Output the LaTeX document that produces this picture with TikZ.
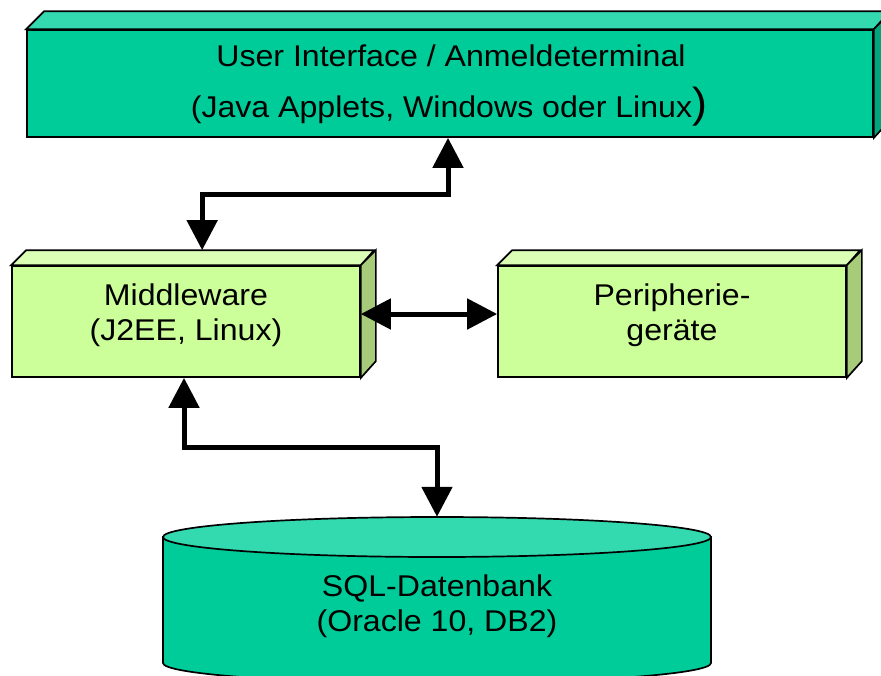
\documentclass[tikz,border=0pt]{standalone}
\usepackage{fontspec}
\setmainfont[FakeStretch=1.07]{Liberation Sans}
\usetikzlibrary{arrows.meta}
\definecolor{tealfront}{HTML}{00CC99}
\definecolor{tealtop}{HTML}{33D9AF}
\definecolor{tealside}{HTML}{00A57E}
\definecolor{greenfront}{HTML}{CCFF99}
\definecolor{greentop}{HTML}{DAFFB5}
\definecolor{greenside}{HTML}{A6CC7A}
\tikzset{
  face/.style={draw=black, line width=1.7pt, line join=miter},
  frontbox/.style={face, rectangle, inner sep=0pt},
  lbl/.style={anchor=base, inner sep=0pt, font=\fontsize{30}{36}\selectfont},
  conn/.style={line width=5pt, line join=miter, draw=black,
    {Triangle[length=30pt,width=30pt]}-{Triangle[length=30pt,width=30pt]}}
}
\begin{document}
\begin{tikzpicture}[x=1pt,y=-1pt]
\useasboundingbox (0,0) rectangle (881,675);
% ---------- User interface box ----------
\node[frontbox, fill=tealfront, minimum width=846pt, minimum height=107pt] (ui) at (450,83.5) {};
\path[face, fill=tealtop] (ui.north west) -- ++(18,-18) -- ++(846,0) -- (ui.north east) -- cycle;
\path[face, fill=tealside] (ui.north east) -- ++(18,-18) -- ++(0,107) -- (ui.south east) -- cycle;
\node[lbl] (uit1) at (451,66) {User Interface / Anmeldeterminal};
\node[lbl] (uit2) at (449,117) {(Java Applets, Windows oder Linux{\fontsize{42}{42}\selectfont )}};
% ---------- Middleware box ----------
\node[frontbox, fill=greenfront, minimum width=348pt, minimum height=111pt] (mw) at (186,321.5) {};
\path[face, fill=greentop] (mw.north west) -- ++(15,-15) -- ++(348,0) -- (mw.north east) -- cycle;
\path[face, fill=greenside] (mw.north east) -- ++(15,-15) -- ++(0,111) -- (mw.south east) -- cycle;
\node[lbl] (mwt1) at (186,305) {Middleware};
\node[lbl] (mwt2) at (186,340) {(J2EE, Linux)};
% ---------- Peripherie box ----------
\node[frontbox, fill=greenfront, minimum width=348pt, minimum height=111pt] (pe) at (672,321.5) {};
\path[face, fill=greentop] (pe.north west) -- ++(15,-15) -- ++(348,0) -- (pe.north east) -- cycle;
\path[face, fill=greenside] (pe.north east) -- ++(15,-15) -- ++(0,111) -- (pe.south east) -- cycle;
\node[lbl] (pet1) at (672,305) {Peripherie-};
\node[lbl] (pet2) at (672,340) {geräte};
% ---------- Database cylinder ----------
\node[inner sep=0pt, minimum width=548pt, minimum height=166pt] (db) at (437,600) {};
\path[face, fill=tealfront] (163,537) -- (163,663) arc[start angle=180, end angle=0, x radius=274, y radius=20] -- (711,537) -- cycle;
\path[face, fill=tealtop] (437,537) ellipse[x radius=274, y radius=20];
\node[lbl] (dbt1) at (437,596) {SQL-Datenbank};
\node[lbl] (dbt2) at (437,631) {(Oracle 10, DB2)};
% ---------- Connectors ----------
\draw[conn] ([xshift=-2pt]ui.south) -- ++(0,57) -| ([xshift=191pt,yshift=15pt]mw.north west);
\draw[conn] ([yshift=7.5pt]mw.east) -- ([yshift=7.5pt]pe.west);
\draw[conn] ([xshift=-2pt]mw.south) -- ++(0,70) -| (db.north);
\end{tikzpicture}
\end{document}
